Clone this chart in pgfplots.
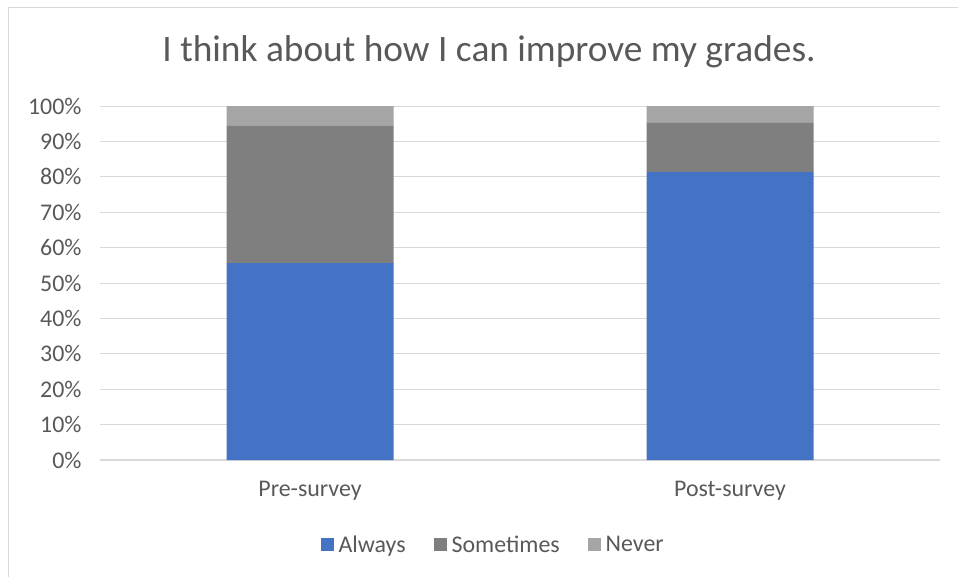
\documentclass[border=0pt]{standalone}
\usepackage{pgfplots}
\pgfplotsset{compat=1.18}
\usepackage{fontspec}
\setmainfont{Carlito}
\definecolor{cAlways}{HTML}{4472C4}
\definecolor{cSome}{HTML}{7F7F7F}
\definecolor{cNever}{HTML}{A5A5A5}
\definecolor{txt}{HTML}{595959}
\definecolor{grd}{HTML}{D9D9D9}
\begin{document}
\begin{tikzpicture}[x=1bp,y=1bp]
\useasboundingbox (0,0) rectangle (958,-577);
\draw[line width=1.2bp, color=grd] (8.5,-577) -- (8.5,-7.5) -- (958,-7.5);
\node[text=txt, font=\fontsize{37.5}{44}\selectfont, anchor=base] at (489,-62) {I think about how I can improve my grades.};
\begin{axis}[
  at={(100bp,-460bp)}, anchor=south west,
  scale only axis, width=840bp, height=354bp,
  ybar stacked, bar width=167bp,
  xmin=-0.5, xmax=1.5, ymin=0, ymax=100,
  xtick={0,1}, xticklabels={Pre-survey, Post-survey},
  ytick={0,10,...,100},
  yticklabel={\pgfmathprintnumber{\tick}\%},
  /pgf/number format/assume math mode=true,
  ymajorgrids, grid style={grd, line width=1bp},
  axis line style={draw=none},
  major tick length=0pt,
  ticklabel style={text=txt, font=\fontsize{24}{28}\selectfont},
  yticklabel style={xshift=-15bp},
  xticklabel style={yshift=-18bp},
  legend style={at={(0.468,-0.24)}, anchor=center, draw=none, legend columns=-1,
    font=\fontsize{24}{28}\selectfont, text=txt,
    /tikz/every even column/.append style={column sep=26bp}},
  legend image code/.code={\fill[#1] (0bp,-6.5bp) rectangle (13bp,6.5bp); \path (16bp,0bp);},
  every axis plot/.append style={draw=none},
  clip=false,
]
\addplot[fill=cAlways] coordinates {(0,55.6) (1,81.4)};
\addplot[fill=cSome] coordinates {(0,38.9) (1,14.0)};
\addplot[fill=cNever] coordinates {(0,5.5) (1,4.6)};
\draw[grd, line width=1.2bp] (axis cs:-0.5,0) -- (axis cs:1.5,0);
\legend{Always, Sometimes, Never}
\end{axis}
\end{tikzpicture}
\end{document}
